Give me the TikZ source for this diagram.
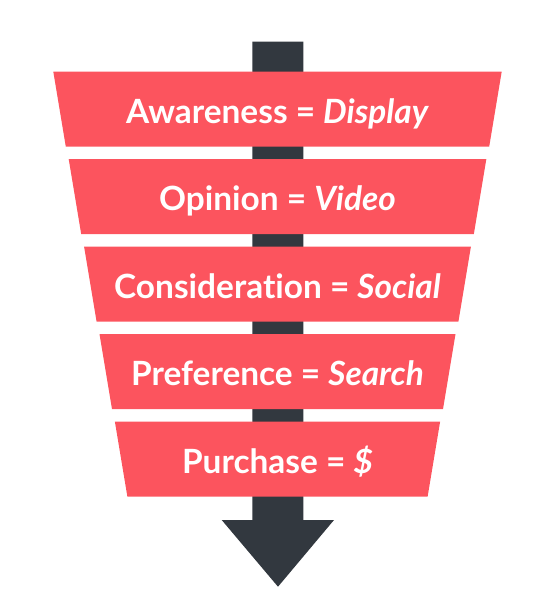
\documentclass[tikz,border=0pt]{standalone}
\usepackage{fontspec}
\setmainfont{Lato}[Ligatures={NoCommon}]
\definecolor{funnelred}{HTML}{FC545E}
\definecolor{arrowgray}{HTML}{32383F}
\tikzset{
    band/.style={fill=funnelred, draw=none},
    bandtext/.style={text=white, font=\fontsize{33.4}{40}\selectfont\bfseries, anchor=base, inner sep=0pt}
}
\begin{document}
\begin{tikzpicture}[x=1pt, y=-1pt]
                \useasboundingbox (0,0) rectangle (557,600);
                
                % arrow behind the funnel
                \fill[arrowgray] (252.3,41.7) -- (303.3,41.7) -- (303.3,520) -- (334,520) -- (278,586.7) -- (221.7,520) -- (252.3,520) -- cycle;
                
                % funnel bands
                \fill[band] (53.3,71.7) -- (501.7,71.7) -- (489.2,146.7) -- (65.8,146.7) -- cycle;
                \fill[band] (68.7,159.2) -- (486.3,159.2) -- (473.8,234.2) -- (81.2,234.2) -- cycle;
                \fill[band] (84.1,246.7) -- (470.9,246.7) -- (458.4,321.7) -- (96.6,321.7) -- cycle;
                \fill[band] (99.5,334.2) -- (455.5,334.2) -- (443,409.2) -- (112,409.2) -- cycle;
                \fill[band] (114.9,421.7) -- (440.1,421.7) -- (427.6,496.7) -- (127.4,496.7) -- cycle;
                
                \node [bandtext] (awareness) at (277.5,123.3) {Awareness = \textit{Display}};
                \node [bandtext] (opinion) at (277.5,210.8) {Opinion = \textit{Video}};
                \node [bandtext] (consideration) at (277.5,298.3) {Consideration = \textit{Social}};
                \node [bandtext] (preference) at (277.5,385.8) {Preference = \textit{Search}};
                \node [bandtext] (purchase) at (277.5,473.3) {Purchase = \textit{\$}};
            \end{tikzpicture}
\end{document}
